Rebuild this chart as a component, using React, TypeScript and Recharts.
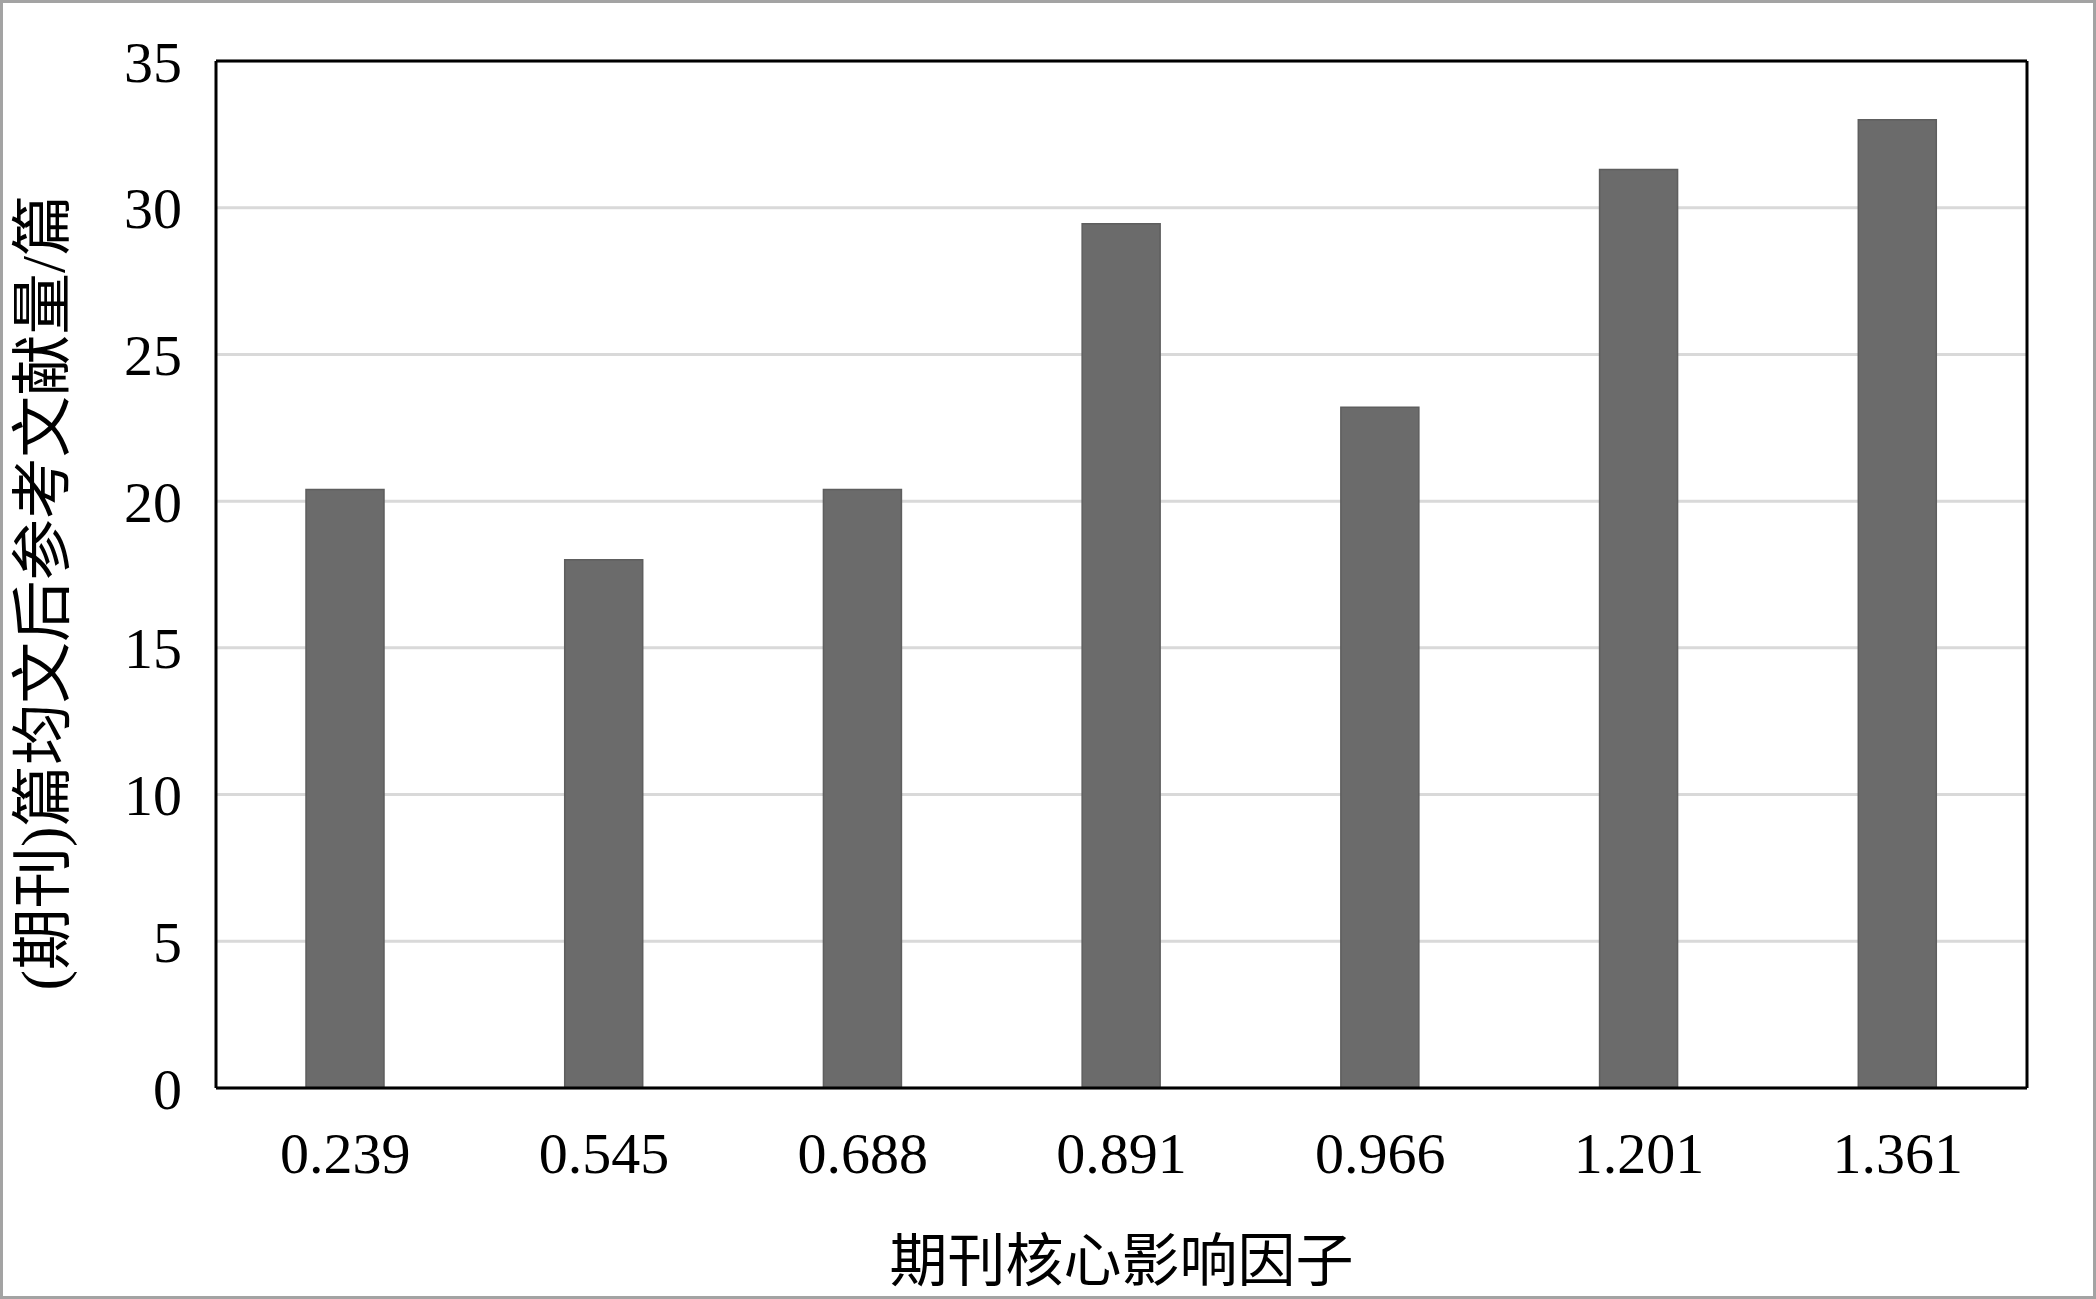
import { BarChart, Bar, XAxis, YAxis, CartesianGrid } from "recharts";

const impactFactors = ["0.239", "0.545", "0.688", "0.891", "0.966", "1.201", "1.361"];
const avgRefs = [20.4, 18.0, 20.4, 29.45, 23.2, 31.3, 33.0];
const yTicks = [0, 5, 10, 15, 20, 25, 30, 35];

const data = impactFactors.map((f, i) => ({ factor: f, refs: avgRefs[i] }));

const W = 2096;
const H = 1299;
const SERIF = '"Liberation Serif", "Times New Roman", "Noto Sans CJK SC", serif';

const tickStyle = { fill: "#000", fontSize: 58, fontFamily: SERIF };

const XTitle = ({ viewBox }: any) => {
  const { x, width } = viewBox;
  return (
    <text x={x + width / 2} y={1261} dy="0.35em" textAnchor="middle" fill="#000" fontSize={58} fontFamily={SERIF}>
      期刊核心影响因子
    </text>
  );
};

const YTitle = ({ viewBox }: any) => {
  const { y, height } = viewBox;
  const cy = y + height / 2 + 18;
  return (
    <text
      x={42}
      y={cy}
      dy="0.35em"
      textAnchor="middle"
      transform={`rotate(-90, 42, ${cy})`}
      fill="#000"
      fontSize={61.5}
      fontFamily={SERIF}
    >
      (期刊)篇均文后参考文献量/篇
    </text>
  );
};

export default function App() {
  return (
    <div style={{ position: "absolute", left: 0, top: 0, width: W, height: H, background: "#fff" }}>
      <BarChart width={W} height={H} data={data} margin={{ top: 0, right: 0, left: 0, bottom: 0 }}>
        <CartesianGrid vertical={false} stroke="#d9d9d9" strokeWidth={3} />
        <XAxis
          dataKey="factor"
          height={211}
          tick={tickStyle}
          tickLine={false}
          tickSize={0}
          tickMargin={44}
          axisLine={{ stroke: "#000", strokeWidth: 3 }}
          label={<XTitle />}
        />
        <XAxis
          xAxisId="top"
          orientation="top"
          dataKey="factor"
          height={61}
          tick={false}
          tickLine={false}
          axisLine={{ stroke: "#000", strokeWidth: 3 }}
        />
        <YAxis
          width={216}
          domain={[0, 35]}
          ticks={yTicks}
          interval={0}
          tick={tickStyle}
          tickLine={false}
          tickSize={0}
          tickMargin={34}
          axisLine={{ stroke: "#000", strokeWidth: 3 }}
          label={<YTitle />}
        />
        <YAxis
          yAxisId="right"
          orientation="right"
          width={69}
          domain={[0, 35]}
          tick={false}
          tickLine={false}
          axisLine={{ stroke: "#000", strokeWidth: 3 }}
        />
        <Bar dataKey="refs" fill="#6b6b6b" stroke="#5e5e5e" strokeWidth={1.5} barSize={78} isAnimationActive={false} />
      </BarChart>
      <div
        style={{
          position: "absolute",
          left: 0,
          top: 0,
          width: W,
          height: H,
          boxSizing: "border-box",
          border: "3px solid #a3a3a3",
          pointerEvents: "none",
        }}
      />
    </div>
  );
}
